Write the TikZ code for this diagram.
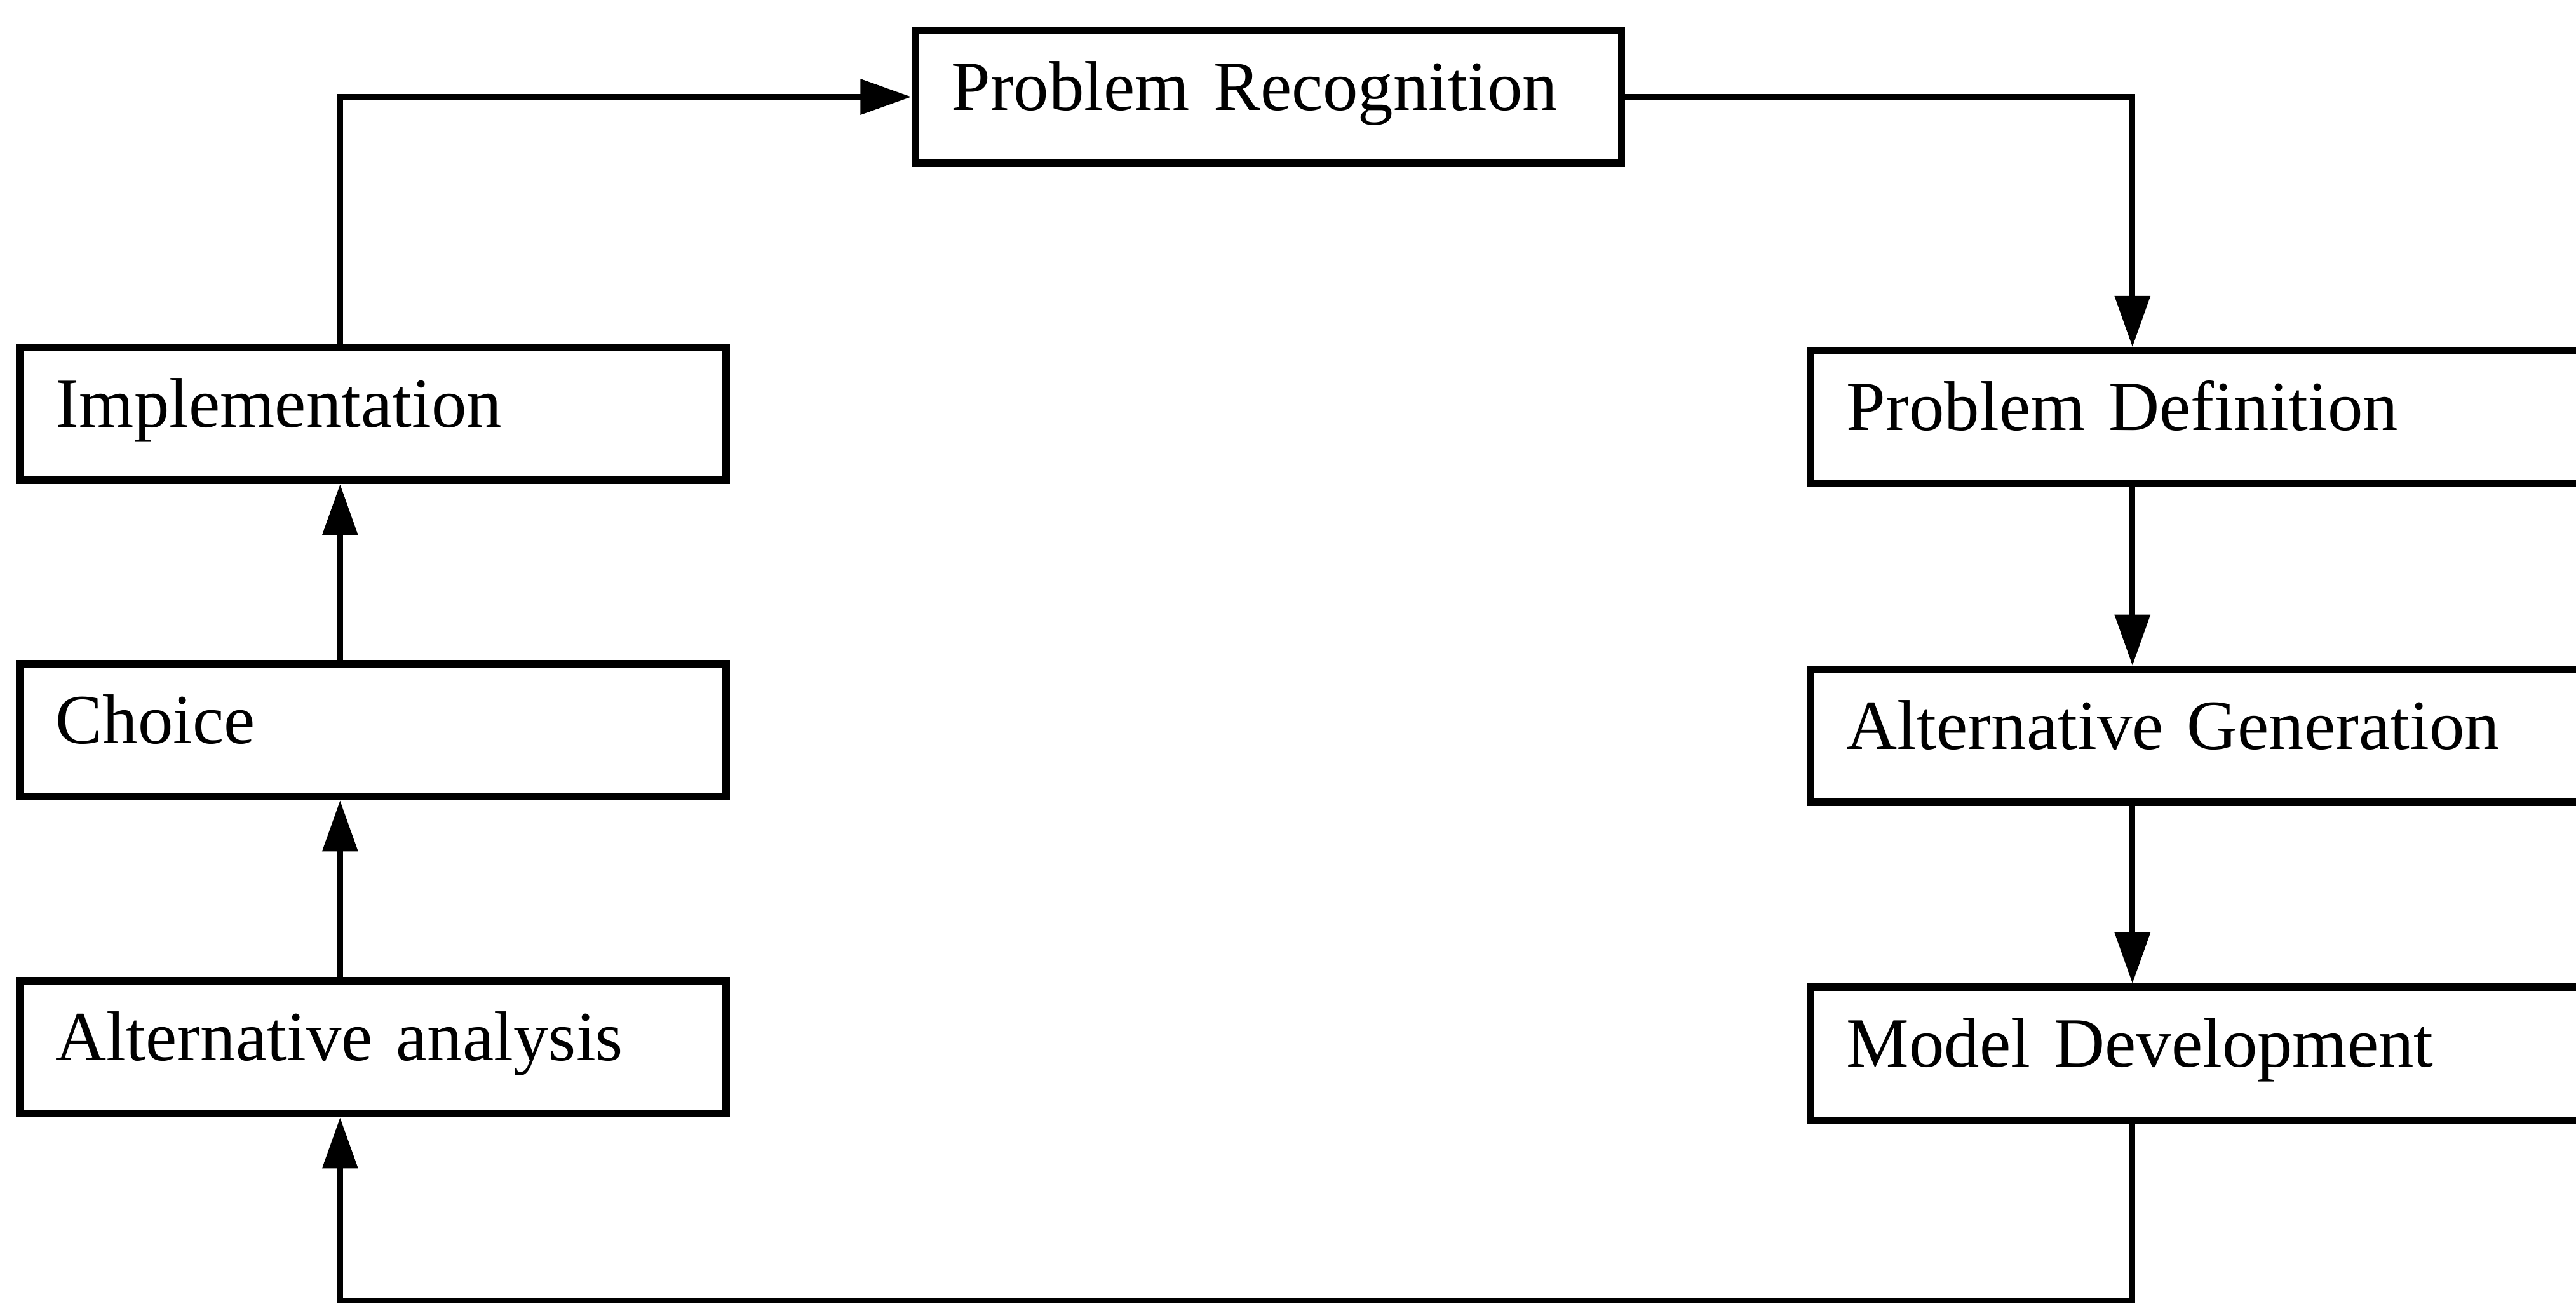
\documentclass[tikz,border=0pt]{standalone}
\usepackage{fontspec}
\setmainfont{Liberation Serif}
\usetikzlibrary{arrows.meta}

\tikzset{
  stage/.style={draw, line width=1.3pt, align=left, text width=3.86cm,
    inner xsep=0.22cm, inner ysep=0.02cm, text height=0.46cm, text depth=0.3cm,
    minimum height=0.81cm, font=\fontsize{12.2}{14}\selectfont},
  widestage/.style={stage, text width=4.46cm},
  flow/.style={line width=0.95pt, -{Triangle[length=3.1mm, width=2.1mm]}}
}

\begin{document}
\begin{tikzpicture}
  \useasboundingbox (0,0) rectangle (15.68,7.95);
  \clip (0,0) rectangle (15.68,7.95);

  % the two vertical spines
  \coordinate (lspine) at (2.07,0.03);
  \coordinate (rspine) at (12.98,0.03);

  \node[stage] (recog) at (7.72,7.36) {Problem Recognition};

  \node[stage] (impl) at (2.27,5.43) {Implementation};
  \node[stage] (choice) at (2.27,3.505) {Choice};
  \node[stage] (altan) at (2.27,1.575) {Alternative analysis};

  \node[widestage] (defin) at (13.47,5.41) {Problem Definition};
  \node[widestage] (altgen) at (13.47,3.47) {Alternative Generation};
  \node[widestage] (model) at (13.47,1.535) {Model Development};

  \draw[flow] (impl.north -| lspine) |- (recog.west);
  \draw[flow] (recog.east) -| (defin.north -| rspine);
  \draw[flow] (defin.south -| rspine) -- (altgen.north -| rspine);
  \draw[flow] (altgen.south -| rspine) -- (model.north -| rspine);
  \draw[flow] (model.south -| rspine) -- (rspine) -- (lspine) -- (altan.south -| lspine);
  \draw[flow] (altan.north -| lspine) -- (choice.south -| lspine);
  \draw[flow] (choice.north -| lspine) -- (impl.south -| lspine);
\end{tikzpicture}
\end{document}
